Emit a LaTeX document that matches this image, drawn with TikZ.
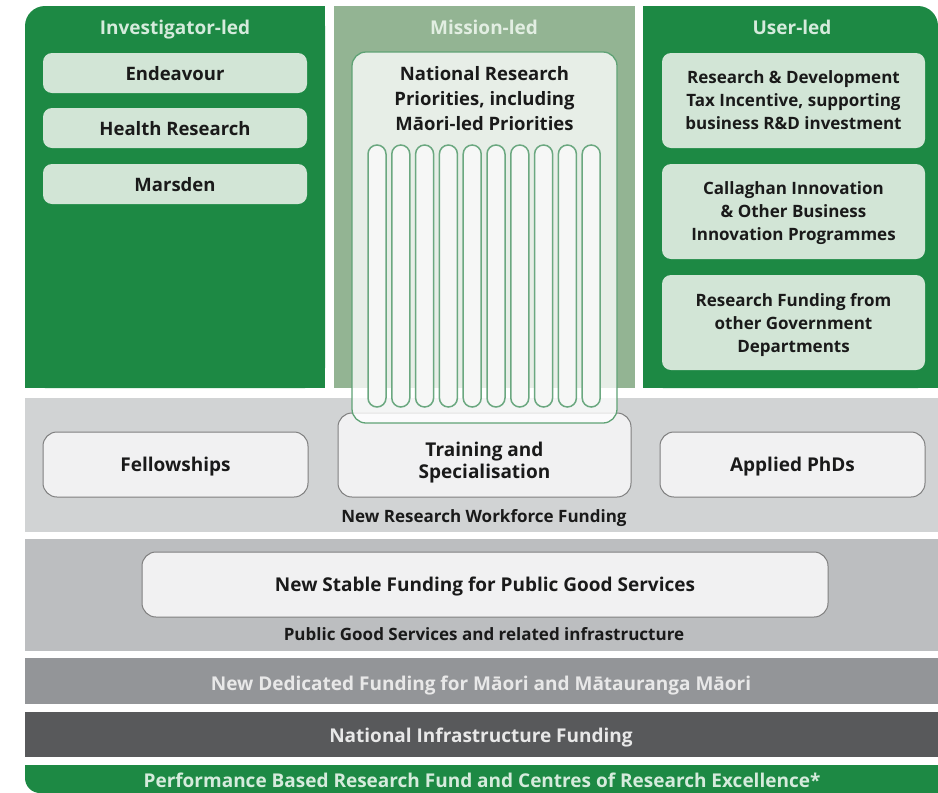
\documentclass[tikz,border=0pt]{standalone}
\usepackage{fontspec}
\setmainfont{Open Sans}
\definecolor{grn}{HTML}{1D8944}
\definecolor{ttl}{HTML}{D5EBDC}
\definecolor{misttl}{HTML}{E2EEE2}
\definecolor{lgbox}{HTML}{D2E5D6}
\definecolor{txt}{HTML}{1A1A1A}
\definecolor{mis}{HTML}{93B493}
\definecolor{nrpline}{HTML}{5FA275}
\definecolor{pillline}{HTML}{6BA880}
\definecolor{pillfill}{HTML}{F6F7F6}
\definecolor{grayA}{HTML}{D1D3D4}
\definecolor{grayB}{HTML}{BCBEC0}
\definecolor{grayC}{HTML}{939598}
\definecolor{grayD}{HTML}{58595B}
\definecolor{boxfill}{HTML}{F1F1F2}
\definecolor{boxline}{HTML}{7F7F7F}
\definecolor{bandtxt}{HTML}{E8E8E8}
\begin{document}
\begin{tikzpicture}[x=1pt,y=-1pt,
  every node/.style={font=\bfseries\fontsize{19}{22}\selectfont, text=txt, align=center, inner sep=0pt, text depth=0pt},
  coltitle/.style={text=ttl},
  invtext/.style={font=\bfseries\fontsize{18.5}{22}\selectfont},
  usertext/.style={font=\bfseries\fontsize{17}{23}\selectfont},
  greenbox/.style={fill=lgbox, rounded corners=9pt, minimum width=264pt},
  wsbox/.style={fill=boxfill, draw=boxline, line width=1pt, rounded corners=14pt},
  smalllabel/.style={font=\bfseries\fontsize{17}{20}\selectfont},
  bandlabel/.style={text=bandtxt},
  pill/.style={fill=pillfill, draw=pillline, line width=1.5pt, rounded corners=9pt, minimum width=18pt, minimum height=262pt}]
\useasboundingbox (0,0) rectangle (938,793);
\fill[white] (0,0) rectangle (938,793);
% columns
\fill[grn, rounded corners=20pt] (25,6) rectangle (325,388);
\fill[grn] (45,6) rectangle (325,388);
\fill[grn] (25,26) rectangle (325,388);
\fill[mis] (334,6) rectangle (635,388);
\fill[grn, rounded corners=20pt] (643,6) rectangle (938,388);
\fill[grn] (643,6) rectangle (918,388);
\fill[grn] (643,26) rectangle (938,388);
% bands
\fill[grayA] (25,398) rectangle (938,532);
\fill[grayB] (25,539) rectangle (938,651);
\fill[grayC] (25,658) rectangle (938,704);
\fill[grayD] (25,712) rectangle (938,757);
\fill[grn, rounded corners=15pt] (25,765) rectangle (938,793);
\fill[grn] (25,765) rectangle (938,778);
\fill[grn] (45,765) rectangle (938,793);
% titles
\node[coltitle] (tinv) at (175,27) {Investigator-led};
\node[text=misttl] (tmis) at (484,27) {Mission-led};
\node[coltitle] (tuse) at (792,27) {User-led};
% investigator boxes
\node[greenbox, invtext, minimum height=40pt] (endv) at (175,73) {Endeavour};
\node[greenbox, invtext, minimum height=40pt] (hres) at (175,128) {Health Research};
\node[greenbox, invtext, minimum height=40pt] (mars) at (175,184) {Marsden};
% user boxes
\node[greenbox, usertext, minimum width=263pt, minimum height=95pt] (rdti) at (793.5,100.5) {Research \& Development\\Tax Incentive, supporting\\business R\&D investment};
\node[greenbox, usertext, minimum width=263pt, minimum height=95pt] (call) at (793.5,211.5) {Callaghan Innovation\\\& Other Business\\Innovation Programmes};
\node[greenbox, usertext, minimum width=263pt, minimum height=95pt] (ogov) at (793.5,322.5) {Research Funding from\\other Government\\Departments};
% workforce boxes
\node[wsbox, minimum width=265pt, minimum height=65pt] (fell) at (175.5,464.5) {Fellowships};
\node[wsbox, minimum width=293pt, minimum height=84pt] (train) at (484.5,455) {};
\node[wsbox, minimum width=265pt, minimum height=65pt] (aphd) at (792.5,464.5) {Applied PhDs};
% national research priorities
\node[fill=white, fill opacity=0.78, draw=nrpline, draw opacity=1, line width=1.3pt, rounded corners=14pt, minimum width=265pt, minimum height=371pt] (nrp) at (484.5,237.5) {};
\node[font=\bfseries\fontsize{18.5}{25}\selectfont] (nrptext) at (484.5,98) {National Research\\Priorities, including\\M\=aori-led Priorities};
\foreach \i in {0,...,9}{
  \node[pill] (pill\i) at ({377+\i*23.8},276) {};
}
\node (traintext) at (484.5,460) {Training and\\Specialisation};
\node[smalllabel] (nrwf) at (484,516) {New Research Workforce Funding};
% public good
\node[wsbox, minimum width=686pt, minimum height=65pt] (stable) at (485,584.5) {New Stable Funding for Public Good Services};
\node[smalllabel] (pgs) at (484,634) {Public Good Services and related infrastructure};
\node[bandlabel] (maori) at (481,683) {New Dedicated Funding for M\=aori and M\=atauranga M\=aori};
\node[bandlabel] (nif) at (481,735) {National Infrastructure Funding};
\node[coltitle] (pbrf) at (482,780) {Performance Based Research Fund and Centres of Research Excellence*};
\end{tikzpicture}
\end{document}
